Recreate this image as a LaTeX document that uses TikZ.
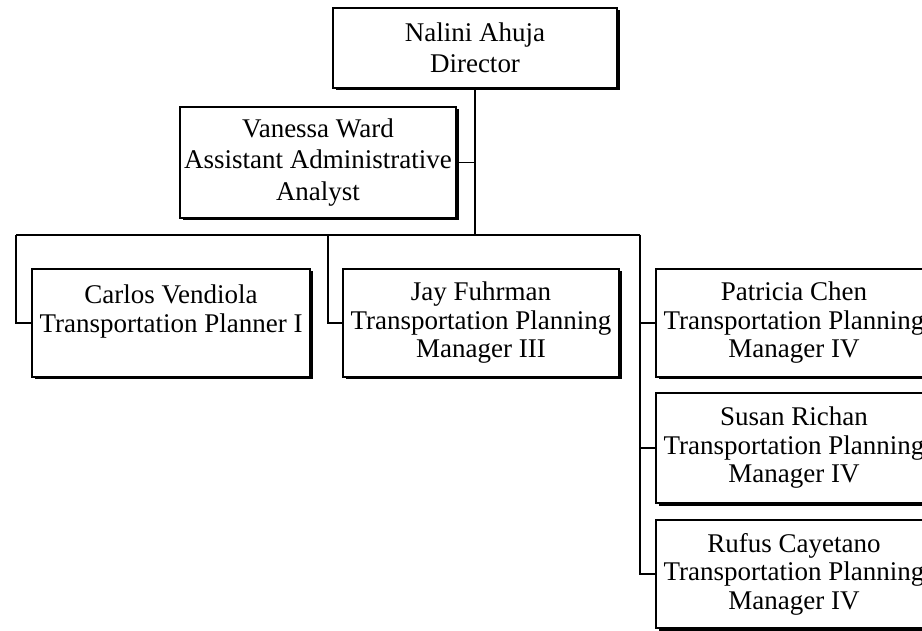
\documentclass[tikz,border=0pt]{standalone}
\usepackage{fontspec}
\setmainfont{Liberation Serif}
\usetikzlibrary{shadows}
\begin{document}
\begin{tikzpicture}[x=1pt,y=-1pt]
			\path [use as bounding box,clip] (0,0) rectangle (922,631);
			\begin{scope}[every node/.style={draw,fill=white,line width=1.3pt,align=center,
					minimum width=276pt,minimum height=108pt,inner sep=0pt,
					font=\fontsize{27}{28.5}\selectfont,
					drop shadow={shadow xshift=2.5pt,shadow yshift=-2.5pt,fill=black,opacity=1}}]
				\node (ahuja) [minimum width=284pt,minimum height=80pt,font=\fontsize{27}{31}\selectfont] at (475,48) {Nalini Ahuja\\Director};
				\node (ward) [minimum height=111pt,font=\fontsize{27}{31.5}\selectfont] at (318,162.5) {Vanessa Ward\\Assistant Administrative\\Analyst};
				\node (vendiola) [minimum width=278pt] at (171,323) {Carlos Vendiola\\Transportation Planner I\\~};
				\node (fuhrman) at (481,323) {Jay Fuhrman\\Transportation Planning\\Manager III};
				\node (chen) at (794,323) {Patricia Chen\\Transportation Planning\\Manager IV};
				\node (richan) [minimum height=110pt] at (794,448) {Susan Richan\\Transportation Planning\\Manager IV};
				\node (cayetano) at (794,574) {Rufus Cayetano\\Transportation Planning\\Manager IV};
			\end{scope}
		
			\coordinate (busL) at (16,235);
			\coordinate (busJ) at (328,235);
			\coordinate (busR) at (640,235);
			
			\begin{scope}[line width=1.3pt]
				\draw (ahuja.south) -- (ahuja.south |- busL);
				\draw (ward.east) -- (ward.east -| ahuja.south);
				\draw (busL) -- (busR);
				\draw (busL) |- (vendiola.west);
				\draw (busJ) |- (fuhrman.west);
				\draw (busR) |- (chen.west);
				\draw (busR) |- (richan.west);
				\draw (busR) |- (cayetano.west);
			\end{scope}
		\end{tikzpicture}
\end{document}
